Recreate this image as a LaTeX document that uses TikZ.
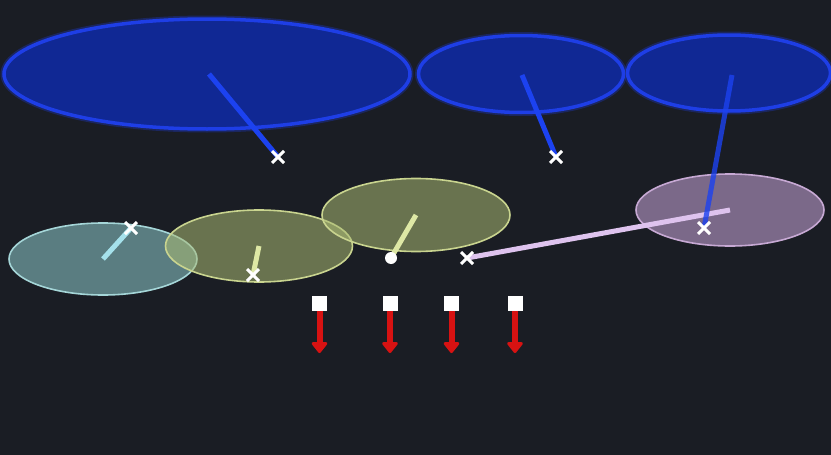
\documentclass[tikz,border=0pt]{standalone}
\usetikzlibrary{shapes.geometric,shapes.misc,arrows.meta}
\definecolor{bg}{RGB}{26,29,36}
\definecolor{blueFill}{RGB}{16,40,148}
\definecolor{blueEdge}{RGB}{30,62,230}
\definecolor{blueLine}{RGB}{28,66,240}
\definecolor{tealC}{RGB}{144,204,207}
\definecolor{tealE}{RGB}{165,214,216}
\definecolor{tealL}{RGB}{165,225,235}
\definecolor{oliveC}{RGB}{171,187,116}
\definecolor{oliveE}{RGB}{201,212,143}
\definecolor{oliveL}{RGB}{222,232,165}
\definecolor{pinkC}{RGB}{204,169,221}
\definecolor{pinkE}{RGB}{199,169,212}
\definecolor{pinkL}{RGB}{222,195,238}
\definecolor{redA}{RGB}{215,18,18}
\tikzset{
  bluell/.style={ellipse, draw=blueEdge, fill=blueFill, line width=3.5pt, inner sep=0pt},
  glowell/.style={ellipse, draw=blueEdge, draw opacity=0.3, line width=7pt, inner sep=0pt},
  softell/.style={ellipse, line width=1.6pt, inner sep=0pt, fill opacity=0.55},
  blueline/.style={draw=blueLine, line width=5pt},
  softline/.style={line width=5pt},
  xmark/.style={cross out, draw=white, line width=3pt, minimum size=9pt, inner sep=0pt},
  dotm/.style={circle, fill=white, minimum size=12pt, inner sep=0pt},
  sq/.style={rectangle, fill=white, minimum width=15pt, minimum height=15pt, inner sep=0pt},
  redarrow/.style={draw=redA, line width=6pt, -{Triangle[width=18pt,length=12pt,round]}}
}
\begin{document}
\begin{tikzpicture}[x=1pt,y=-1pt]
\fill[bg] (0,0) rectangle (831,455);
\useasboundingbox (0,0) rectangle (831,455);

% top blue ellipses (glow then body)
\node[glowell, minimum width=406pt, minimum height=110pt] at (207,74) {};
\node[glowell, minimum width=205pt, minimum height=77pt] at (521,74) {};
\node[glowell, minimum width=203pt, minimum height=76pt] at (729,73) {};
\node[bluell, minimum width=406pt, minimum height=110pt] (B1) at (207,74) {};
\node[bluell, minimum width=205pt, minimum height=77pt] (B2) at (521,74) {};
\node[bluell, minimum width=203pt, minimum height=76pt] (B3) at (729,73) {};

% lower soft ellipses
\node[softell, draw=tealE, fill=tealC, minimum width=188pt, minimum height=72pt] (T1) at (103,259) {};
\node[softell, draw=oliveE, fill=oliveC, minimum width=187pt, minimum height=72pt] (O1) at (259,246) {};
\node[softell, draw=oliveE, fill=oliveC, minimum width=188pt, minimum height=73pt] (O2) at (416,215) {};
\node[softell, draw=pinkE, fill=pinkC, minimum width=188pt, minimum height=72pt] (P1) at (730,210) {};

% start points
\coordinate (s1) at (209,74);
\coordinate (s2) at (522,75);
\coordinate (s3) at (732,75);

% end markers (positions)
\coordinate (X1) at (278,157);
\coordinate (X2) at (556,157);
\coordinate (X3) at (704,228);
\coordinate (XT) at (131,228);
\coordinate (XO) at (253,275);
\coordinate (XP) at (467,258);
\coordinate (D1) at (391,258);

% connectors
\draw[softline, draw=pinkL] (P1.center) -- (XP);
\draw[blueline] (s1) -- (X1);
\draw[blueline] (s2) -- (X2);
\draw[blueline, draw opacity=0.8] (s3) -- (X3);
\draw[softline, draw=tealL] (T1.center) -- (XT);
\draw[softline, draw=oliveL] (O1.center) -- (XO);
\draw[softline, draw=oliveL] (O2.center) -- (D1);

% markers on top
\node[xmark] (M1) at (X1) {};
\node[xmark] (M2) at (X2) {};
\node[xmark] (M3) at (X3) {};
\node[xmark] (MT) at (XT) {};
\node[xmark] (MO) at (XO) {};
\node[xmark] (MP) at (XP) {};
\node[dotm] (MD) at (D1) {};

% squares and arrows
\node[sq] (Q1) at (319.5,303.5) {};
\node[sq] (Q2) at (390,303.5) {};
\node[sq] (Q3) at (451.5,303.5) {};
\node[sq] (Q4) at (515,303.5) {};
\coordinate (A1) at (319.5,353);
\coordinate (A2) at (390,353);
\coordinate (A3) at (451.5,353);
\coordinate (A4) at (515,353);
\draw[redarrow] (Q1.south) -- (A1);
\draw[redarrow] (Q2.south) -- (A2);
\draw[redarrow] (Q3.south) -- (A3);
\draw[redarrow] (Q4.south) -- (A4);
\end{tikzpicture}
\end{document}
